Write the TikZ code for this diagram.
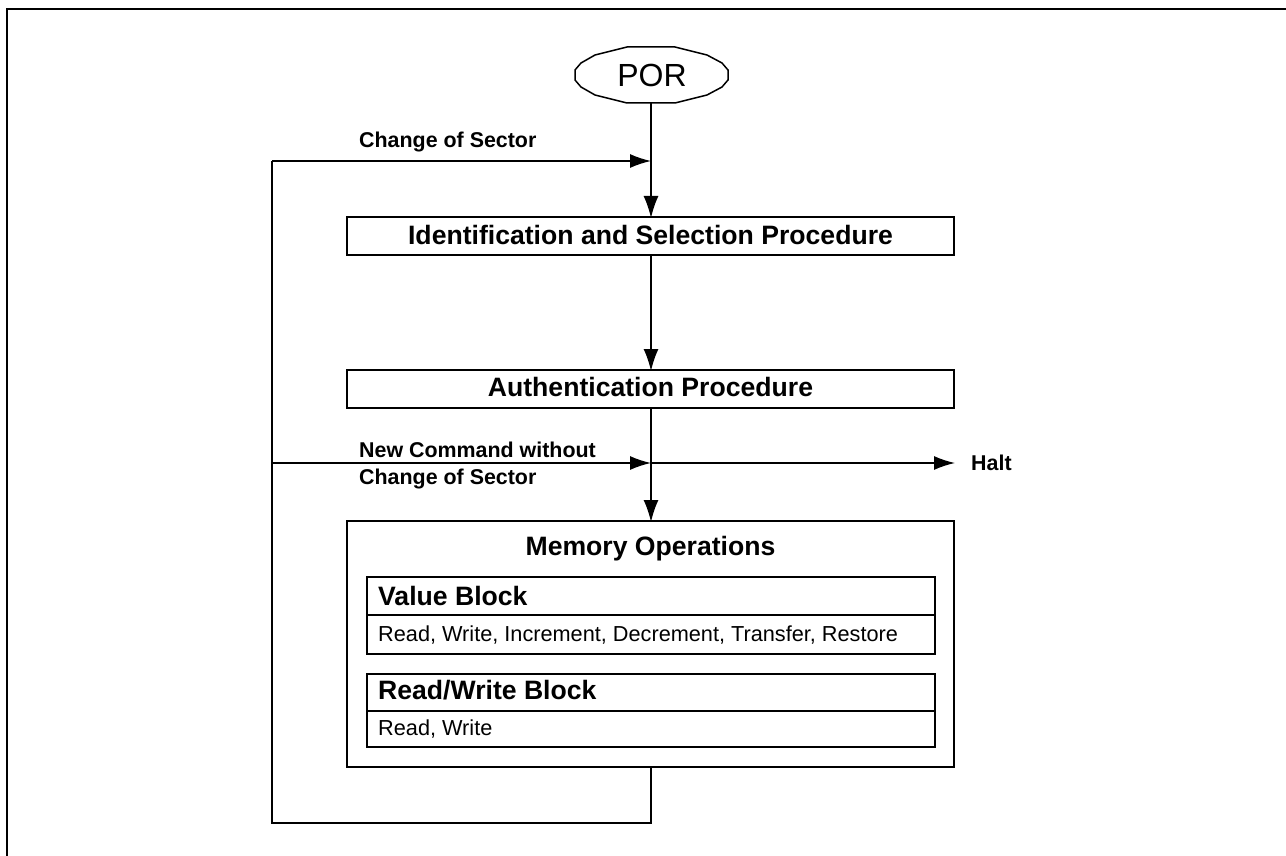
\documentclass[tikz,border=0pt]{standalone}
\usepackage{fontspec}
\setmainfont{Liberation Sans}
\usetikzlibrary{arrows.meta}
\tikzset{
  line/.style={draw=black,line width=1.5pt},
  arr/.style={line,-{Latex[length=22pt,width=15pt,sharp]},shorten >=-1pt},
  harr/.style={line,-{Latex[length=21pt,width=14pt,sharp]}},
  box/.style={draw=black,line width=1.5pt,fill=white,inner sep=0pt,outer sep=0pt,anchor=north west},
  head/.style={font=\bfseries\fontsize{26.6}{30}\selectfont},
  sub/.style={font=\bfseries\fontsize{26.6}{30}\selectfont,inner sep=0pt},
  lab/.style={font=\bfseries\fontsize{21.4}{26}\selectfont,inner sep=0pt},
  txt/.style={font=\fontsize{21.7}{25}\selectfont,inner sep=0pt}
}
\begin{document}
\begin{tikzpicture}[x=1pt,y=-1pt]
\useasboundingbox (0,0) rectangle (1286,856);
\draw[line] (7,856) -- (7,9) -- (1286,9);
\draw[line] (575,70) -- (581,63) -- (595,55) -- (627,47) -- (675,47) -- (707,55) -- (722,63) -- (728,70) -- (728,80) -- (722,87) -- (707,95) -- (675,103) -- (627,103) -- (595,95) -- (581,87) -- (575,80) -- cycle;
\node[font=\fontsize{32}{36}\selectfont] (por) at (652,75) {POR};
\coordinate (porb) at (651,103);
\node[box,minimum width=607pt,minimum height=38pt] (id) at (347,217) {};
\node[head] at (650.5,234.5) {Identification and Selection Procedure};
\node[box,minimum width=607pt,minimum height=38pt] (auth) at (347,370) {};
\node[head] at (650.5,386.5) {Authentication Procedure};
\node[box,minimum width=607pt,minimum height=246pt] (mem) at (347,521) {};
\node[head] at (650.5,549) {Memory Operations};
\node[box,minimum width=568pt,minimum height=38pt] (vh) at (367,577) {};
\node[box,minimum width=568pt,minimum height=39pt] (vb) at (367,615) {};
\node[sub,anchor=west] at (378,596) {Value Block};
\node[txt,anchor=west] at (378,635.5) {Read, Write, Increment, Decrement, Transfer, Restore};
\node[box,minimum width=568pt,minimum height=37pt] (rh) at (367,674) {};
\node[box,minimum width=568pt,minimum height=36pt] (rb) at (367,711) {};
\node[sub,anchor=west] at (378,690.5) {Read/Write Block};
\node[txt,anchor=west] at (378,729) {Read, Write};
\coordinate (j1) at (651,161);
\coordinate (j2) at (651,463);
\coordinate (bl) at (272,823);
\coordinate (br) at (651,823);
\coordinate (l1) at (272,161);
\coordinate (l2) at (272,463);
\coordinate (halt) at (955,463);
\draw[arr] (porb) -- (id.north -| porb);
\draw[arr] (id.south -| porb) -- (auth.north -| porb);
\draw[arr] (auth.south -| porb) -- (mem.north -| porb);
\draw[line] (mem.south -| porb) -- (br) -- (bl) -- (l1);
\draw[harr] (l1) -- (j1);
\draw[harr] (l2) -- (j2);
\draw[harr] (j2) -- (halt);
\node[lab,anchor=west] at (359,142.5) {Change of Sector};
\node[lab,anchor=west] at (359,450.3) {New Command without};
\node[lab,anchor=west] at (359,479) {Change of Sector};
\node[lab,anchor=west] at (971,462.5) {Halt};
\end{tikzpicture}
\end{document}
